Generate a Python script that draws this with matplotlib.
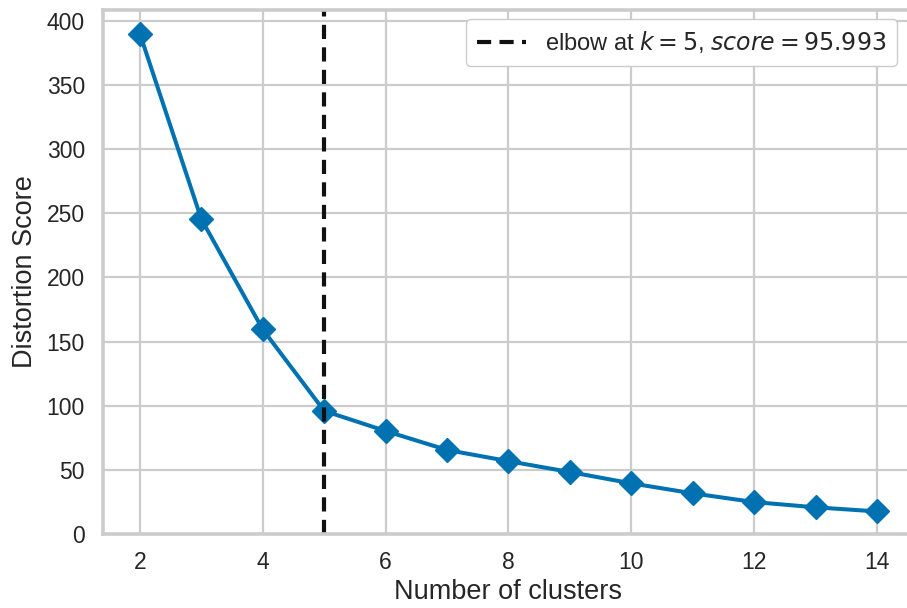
import matplotlib
matplotlib.use("Agg")
import matplotlib.pyplot as plt

# ---- data ----
K = [2, 3, 4, 5, 6, 7, 8, 9, 10, 11, 12, 13, 14]
DISTORTION = [390.0, 245.5, 159.5, 95.993, 80.3, 65.5, 56.8, 48.3, 39.5, 31.7, 24.9, 20.8, 17.6]
ELBOW_K, ELBOW_SCORE = 5, 95.993

BLUE, GRID, INK = "#0072b2", "#cccccc", "#262626"

plt.rcParams.update({
    "font.family": ["Liberation Sans", "DejaVu Sans"],
    "mathtext.fontset": "dejavusans",
    "font.size": 16.5,
    "axes.edgecolor": GRID, "axes.linewidth": 2.6,
    "xtick.color": INK, "ytick.color": INK,
    "xtick.labelsize": 16.5, "ytick.labelsize": 16.5,
    "axes.labelcolor": INK, "axes.labelsize": 19.5, "text.color": INK,
    "xtick.major.size": 0, "ytick.major.size": 0,
    "xtick.major.pad": 12, "ytick.major.pad": 13,
})

fig = plt.figure(figsize=(9.07, 6.08), dpi=100)
ax = fig.add_axes([0.1136, 0.1217, 0.894, 0.862])
ax.grid(True, color=GRID, lw=1.6)
ax.set_axisbelow(True)

ax.plot(K, DISTORTION, marker="D", color=BLUE, lw=2.9, ms=12.5)
ax.axvline(ELBOW_K, color="#111111", lw=3.0, dashes=(3.4, 2.0),
           label=f"elbow at $k={ELBOW_K}$, $score={ELBOW_SCORE:.3f}$")

ax.set_xlim(1.4, 14.6)
ax.set_ylim(0, 408.6)
ax.set_xticks(range(2, 15, 2))
ax.set_yticks(range(0, 401, 50))
ax.set_xlabel("Number of clusters", labelpad=4)
ax.set_ylabel("Distortion Score", labelpad=6)

leg = ax.legend(loc="upper right", bbox_to_anchor=(0.979, 0.983), borderaxespad=0,
                frameon=True, fontsize=17, handlelength=2.1, borderpad=0.45)
leg.get_frame().set_edgecolor(GRID)
leg.get_frame().set_linewidth(1.0)
leg.get_frame().set_alpha(1.0)

fig.savefig("out.png", dpi=100)
